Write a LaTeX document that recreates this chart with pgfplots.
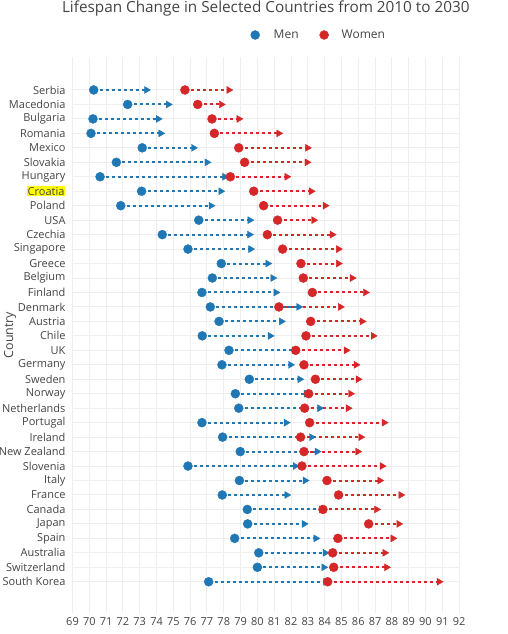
\documentclass[border=0pt]{standalone}
\usepackage{pgfplots}
\usepackage{pgfplotstable}
\usepackage{fontspec}
\setmainfont{Open Sans}
\pgfplotsset{compat=1.18}
\definecolor{menblue}{HTML}{1F77B4}
\definecolor{womenred}{HTML}{D62728}
\definecolor{textgray}{HTML}{444444}
\definecolor{gridgray}{HTML}{EEEEEE}
\definecolor{hl}{HTML}{FFFF00}

\pgfplotstableread{
idx m0 m1 w0 w1
0 70.26 73.40 75.69 78.30
1 72.28 74.70 76.45 77.85
2 70.22 74.10 77.30 78.90
3 70.10 74.25 77.44 81.27
4 73.15 76.20 78.89 82.98
5 71.61 77.00 79.24 82.95
6 70.64 78.05 78.39 81.75
7 73.11 77.82 79.78 83.20
8 71.87 77.24 80.37 84.03
9 76.51 79.55 81.20 83.35
10 74.34 79.53 80.59 84.45
11 75.87 79.60 81.50 84.82
12 77.85 80.62 82.59 84.82
13 77.32 80.92 82.73 85.64
14 76.70 81.10 83.27 86.43
15 77.20 82.46 81.28 84.94
16 77.72 81.43 83.17 86.23
17 76.72 80.76 82.89 86.89
18 78.31 82.20 82.28 85.28
19 77.89 81.97 82.77 85.87
20 79.52 82.52 83.45 85.99
21 78.69 82.90 83.05 85.54
22 78.89 83.70 82.81 85.40
23 76.70 81.71 83.11 87.54
24 77.93 83.22 82.57 86.15
25 78.98 83.55 82.77 85.97
26 75.87 82.25 82.65 87.42
27 78.93 82.84 84.14 87.28
28 77.91 81.75 84.83 88.53
29 79.40 83.80 83.90 87.09
30 79.42 82.78 86.62 88.41
31 78.65 83.48 84.79 88.06
32 80.08 84.03 84.48 87.58
33 80.00 83.95 84.54 87.68
34 77.10 84.05 84.18 90.81
}\lifedata

\begin{document}
\begin{tikzpicture}
\begin{axis}[
  scale only axis,
  width=386.6pt, height=556pt,
  xmin=69, xmax=92,
  ymin=-2.28, ymax=36.16,
  y dir=reverse,
  clip=false,
  xtick={69,...,92},
  ytick={0,...,34},
  yticklabels={Serbia,Macedonia,Bulgaria,Romania,Mexico,Slovakia,Hungary,{\setlength{\fboxsep}{1pt}\colorbox{hl}{Croatia}},Poland,USA,Czechia,Singapore,Greece,Belgium,Finland,Denmark,Austria,Chile,UK,Germany,Sweden,Norway,Netherlands,Portugal,Ireland,New Zealand,Slovenia,Italy,France,Canada,Japan,Spain,Australia,Switzerland,South Korea},
  grid=major,
  major grid style={gridgray, line width=1pt},
  axis line style={draw=none},
  major tick length=0pt,
  tick label style={font=\fontsize{11}{13}\selectfont, text=textgray},
  /pgf/number format/assume math mode=true,
  xticklabel style={yshift=-1pt},
  yticklabel style={xshift=-3.5pt},
  ylabel={Country},
  ylabel style={at={(axis description cs:-0.1617,0.5)}, anchor=center, font=\fontsize{12.5}{15}\selectfont, text=textgray},
  legend columns=2,
  legend style={at={(axis description cs:0.4527,1.0396)}, anchor=west, draw=none, fill=none,
    font=\fontsize{12}{14}\selectfont, text=textgray,
    /tikz/every even column/.append style={column sep=19pt}},
]
\addlegendimage{only marks, mark=*, color=menblue, mark size=4.5pt}
\addlegendentry{\hspace{12pt}Men}
\addlegendimage{only marks, mark=*, color=womenred, mark size=4.5pt}
\addlegendentry{\hspace{11pt}Women}

% Men
\addplot[menblue, line width=2pt, dash pattern=on 3pt off 3pt, no marks,
  quiver={u=\thisrow{m1}-\thisrow{m0}, v=0}] table[x=m0, y=idx] {\lifedata};
\addplot[only marks, mark=*, mark size=4.5pt, color=menblue] table[x=m0, y=idx] {\lifedata};
\addplot[only marks, mark=triangle*, mark size=4pt, color=menblue, mark options={rotate=-90}] table[x=m1, y=idx] {\lifedata};

% Women
\addplot[womenred, line width=2pt, dash pattern=on 3pt off 3pt, no marks,
  quiver={u=\thisrow{w1}-\thisrow{w0}, v=0}] table[x=w0, y=idx] {\lifedata};
\addplot[only marks, mark=*, mark size=4.5pt, color=womenred] table[x=w0, y=idx] {\lifedata};
\addplot[only marks, mark=triangle*, mark size=4pt, color=womenred, mark options={rotate=-90}] table[x=w1, y=idx] {\lifedata};

\node[anchor=base, inner sep=0pt, font=\fontsize{15.3}{18}\selectfont, text=textgray]
  at (axis description cs:0.5,1.0797) {Lifespan Change in Selected Countries from 2010 to 2030};
\end{axis}
\pgfresetboundingbox
\path (-72.5pt,-21pt) rectangle (435.5pt,613pt);
\end{tikzpicture}
\end{document}
